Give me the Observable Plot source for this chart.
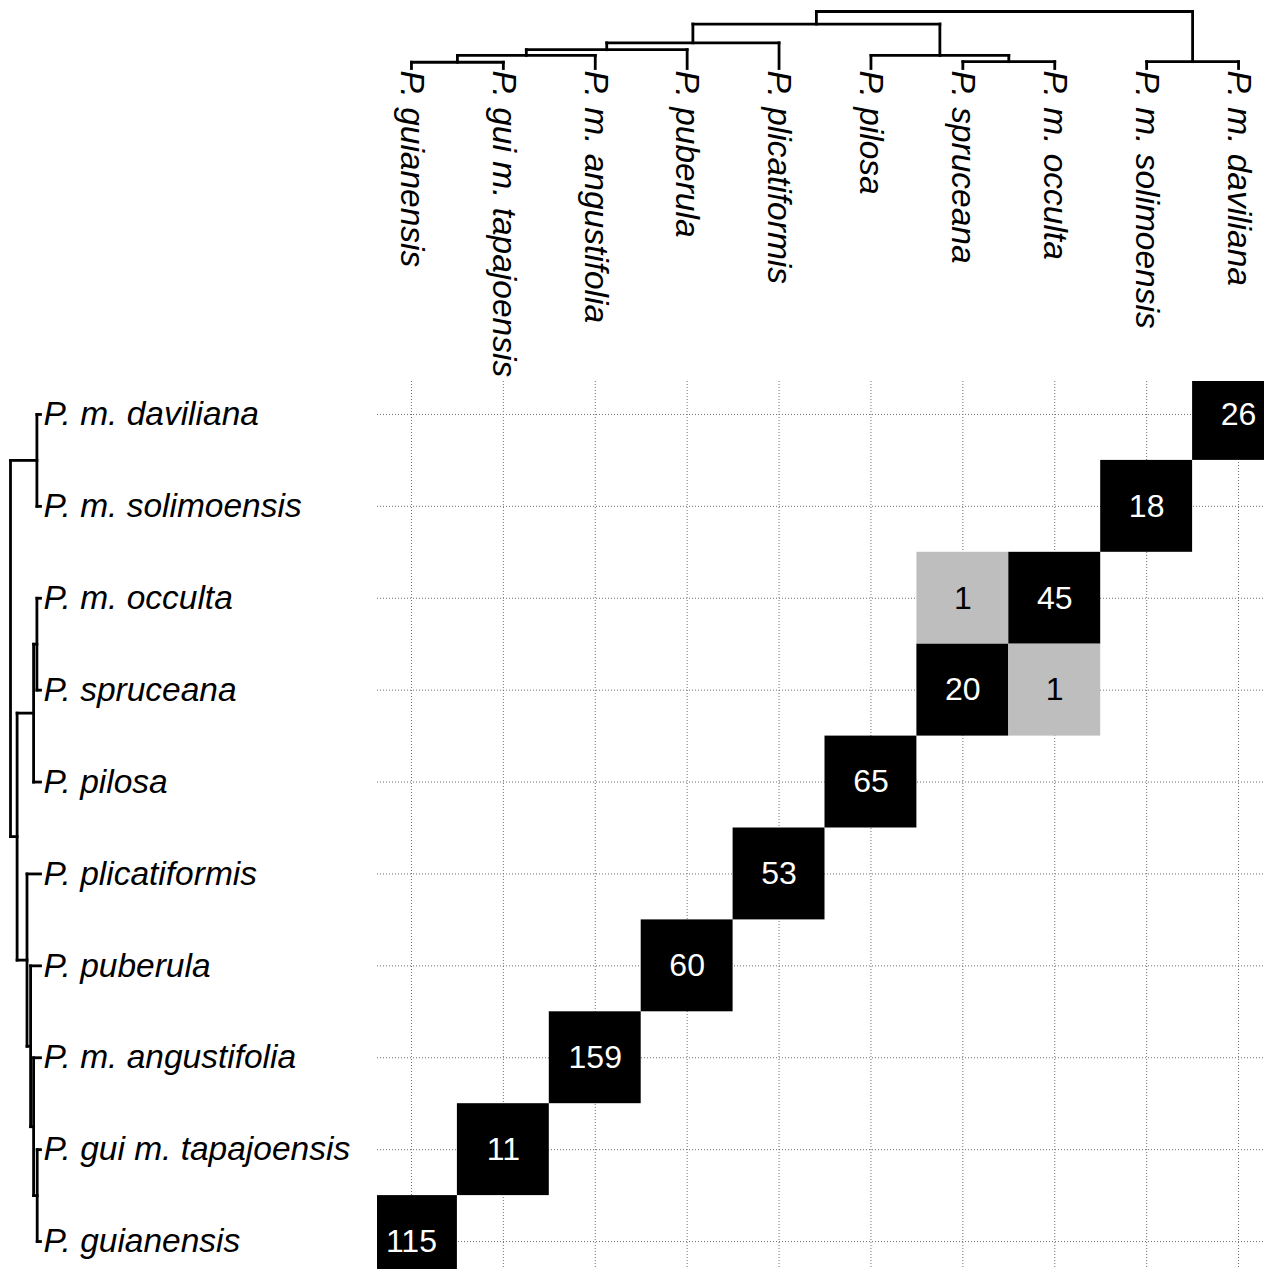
<!DOCTYPE html>
<html><head><meta charset="utf-8">
<script src="https://cdn.jsdelivr.net/npm/d3@7"></script>
<script src="https://cdn.jsdelivr.net/npm/@observablehq/plot@0.6"></script>
<style>
html,body{margin:0;padding:0;background:#fff;}
#chart{position:relative;width:1264px;height:1269px;overflow:hidden;}
#chart svg{position:absolute;left:0;top:0;max-width:none;}
</style></head><body><div id="chart"></div>
<script>
// Columns, left to right (also the leaf order of the dendrogram)
const colNames = [
  "P. guianensis", "P. gui m. tapajoensis", "P. m. angustifolia", "P. puberula",
  "P. plicatiformis", "P. pilosa", "P. spruceana", "P. m. occulta",
  "P. m. solimoensis", "P. m. daviliana"
];
// Rows, top to bottom
const rowNames = [
  "P. m. daviliana", "P. m. solimoensis", "P. m. occulta", "P. spruceana",
  "P. pilosa", "P. plicatiformis", "P. puberula", "P. m. angustifolia",
  "P. gui m. tapajoensis", "P. guianensis"
];
// Counts: one array per row (top to bottom), values in column order
const counts = [
  [0, 0, 0, 0, 0, 0, 0, 0, 0, 26],
  [0, 0, 0, 0, 0, 0, 0, 0, 18, 0],
  [0, 0, 0, 0, 0, 0, 1, 45, 0, 0],
  [0, 0, 0, 0, 0, 0, 20, 1, 0, 0],
  [0, 0, 0, 0, 0, 65, 0, 0, 0, 0],
  [0, 0, 0, 0, 53, 0, 0, 0, 0, 0],
  [0, 0, 0, 60, 0, 0, 0, 0, 0, 0],
  [0, 0, 159, 0, 0, 0, 0, 0, 0, 0],
  [0, 11, 0, 0, 0, 0, 0, 0, 0, 0],
  [115, 0, 0, 0, 0, 0, 0, 0, 0, 0]
];
// Dendrogram merges (hclust style): a, b = leaf name or earlier merge index; h = relative height
const mergeA = ["P. guianensis", 0, 1, 2, "P. spruceana", "P. pilosa", 3, "P. m. solimoensis", 6];
const mergeB = ["P. gui m. tapajoensis", "P. m. angustifolia", "P. puberula", "P. plicatiformis", "P. m. occulta", 4, 5, "P. m. daviliana", 7];
const mergeH = [0.11, 0.23, 0.33, 0.45, 0.12, 0.23, 0.78, 0.12, 1.0];

const W = 1264, H = 1269;
const FONT = "'Liberation Sans', Arial, Helvetica, sans-serif";
const xCols = {type: "linear", domain: [-0.5, 9.5], range: [365, 1284], axis: null};
const yRows = {type: "linear", domain: [-0.5, 9.5], range: [368, 1287], axis: null};

// cells table
const cells = [];
counts.forEach((row, r) => row.forEach((v, c) => { if (v > 0) cells.push({r, c, value: v}); }));

// dendrogram segments
function dendroSegments(leafIndex) {
  const nodes = [];
  const get = k => typeof k === "string" ? {pos: leafIndex(k), h: 0} : nodes[k];
  const segs = [];
  mergeH.forEach((h, i) => {
    const a = get(mergeA[i]), b = get(mergeB[i]);
    segs.push({p1: a.pos, h1: h, p2: b.pos, h2: h});
    segs.push({p1: a.pos, h1: a.h, p2: a.pos, h2: h});
    segs.push({p1: b.pos, h1: b.h, p2: b.pos, h2: h});
    nodes.push({pos: (a.pos + b.pos) / 2, h});
  });
  return segs;
}
const topSegs = dendroSegments(k => colNames.indexOf(k));
const leftSegs = dendroSegments(k => rowNames.indexOf(k));

const common = {width: W, height: H, marginTop: 0, marginLeft: 0, marginRight: 0, marginBottom: 0,
  style: {background: "transparent", fontFamily: FONT, overflow: "visible"}};

const heat = Plot.plot({
  ...common,
  marginTop: 381, marginLeft: 377,
  x: xCols, y: yRows,
  color: {type: "threshold", domain: [2], range: ["#bebebe", "#000000"]},
  marks: [
    Plot.ruleX(d3.range(colNames.length), {x: d => d, stroke: "#707070", strokeWidth: 1, strokeDasharray: "1,2"}),
    Plot.ruleY(d3.range(rowNames.length), {y: d => d, stroke: "#707070", strokeWidth: 1, strokeDasharray: "1,2"}),
    Plot.rect(cells, {x1: d => d.c - 0.5, x2: d => d.c + 0.5, y1: d => d.r - 0.5, y2: d => d.r + 0.5, fill: "value", clip: true}),
    Plot.text(cells.filter(d => d.value >= 2), {x: "c", y: "r", text: d => String(d.value), fill: "white", fontSize: 32}),
    Plot.text(cells.filter(d => d.value < 2), {x: "c", y: "r", text: d => String(d.value), fill: "black", fontSize: 32})
  ]
});

const topDendro = Plot.plot({
  ...common,
  x: xCols,
  y: {type: "linear", domain: [0, 1], range: [68, 11], axis: null},
  marks: [
    Plot.link(topSegs, {x1: "p1", y1: "h1", x2: "p2", y2: "h2", stroke: "black", strokeWidth: 2.8, strokeLinecap: "square"}),
    Plot.text(colNames, {x: (d, i) => i, y: () => 0, text: d => d, rotate: 90, textAnchor: "start",
      fontSize: 33.5, fontStyle: "italic", fill: "black", dy: 2})
  ]
});

const leftDendro = Plot.plot({
  ...common,
  x: {type: "linear", domain: [0, 1], range: [40, 10], axis: null},
  y: yRows,
  marks: [
    Plot.link(leftSegs, {y1: "p1", x1: "h1", y2: "p2", x2: "h2", stroke: "black", strokeWidth: 2.8, strokeLinecap: "square"}),
    Plot.text(rowNames, {x: () => 0, y: (d, i) => i, text: d => d, textAnchor: "start",
      fontSize: 33.5, fontStyle: "italic", fill: "black", dx: 3})
  ]
});

const host = document.getElementById("chart");
host.append(heat, topDendro, leftDendro);
</script></body></html>
